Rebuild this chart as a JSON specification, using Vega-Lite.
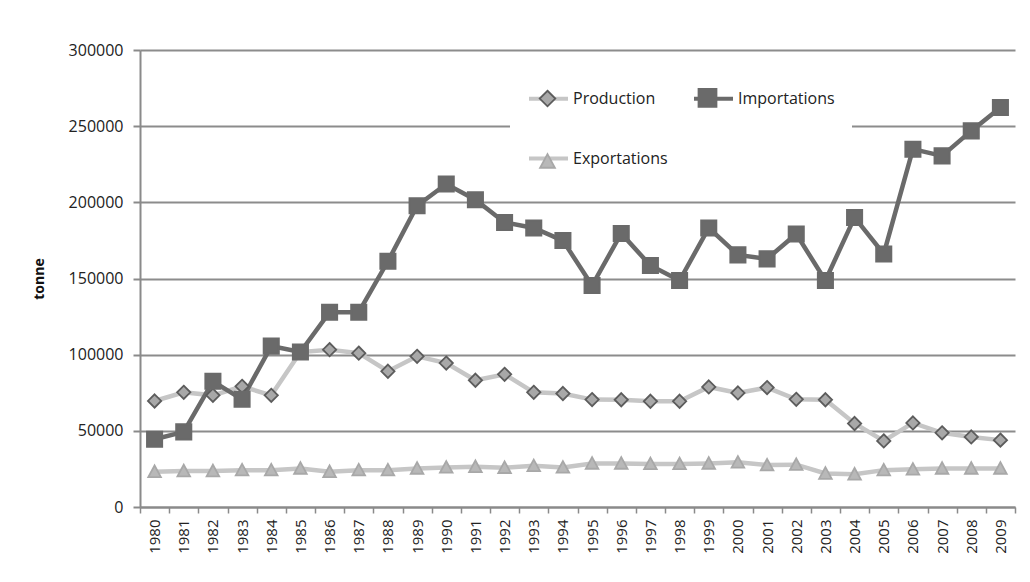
{
  "$schema": "https://vega.github.io/schema/vega-lite/v6.json",
  "width": 875,
  "height": 457,
  "autosize": {"type": "none"},
  "padding": {"left": 140, "top": 50, "right": 15, "bottom": 75},
  "background": "white",
  "config": {
    "view": {"stroke": null},
    "font": "Open Sans",
    "axis": {"labelFont": "Open Sans", "titleFont": "Open Sans"},
    "legend": {"labelFont": "Open Sans"}
  },
  "data": {
    "values": [
      {"year": "1980", "series": "Production", "value": 69600},
      {"year": "1981", "series": "Production", "value": 75300},
      {"year": "1982", "series": "Production", "value": 73300},
      {"year": "1983", "series": "Production", "value": 79200},
      {"year": "1984", "series": "Production", "value": 73300},
      {"year": "1985", "series": "Production", "value": 101700},
      {"year": "1986", "series": "Production", "value": 103300},
      {"year": "1987", "series": "Production", "value": 101000},
      {"year": "1988", "series": "Production", "value": 89100},
      {"year": "1989", "series": "Production", "value": 98900},
      {"year": "1990", "series": "Production", "value": 94500},
      {"year": "1991", "series": "Production", "value": 83200},
      {"year": "1992", "series": "Production", "value": 87100},
      {"year": "1993", "series": "Production", "value": 75300},
      {"year": "1994", "series": "Production", "value": 74500},
      {"year": "1995", "series": "Production", "value": 70500},
      {"year": "1996", "series": "Production", "value": 70400},
      {"year": "1997", "series": "Production", "value": 69400},
      {"year": "1998", "series": "Production", "value": 69400},
      {"year": "1999", "series": "Production", "value": 78800},
      {"year": "2000", "series": "Production", "value": 74900},
      {"year": "2001", "series": "Production", "value": 78400},
      {"year": "2002", "series": "Production", "value": 70700},
      {"year": "2003", "series": "Production", "value": 70400},
      {"year": "2004", "series": "Production", "value": 54800},
      {"year": "2005", "series": "Production", "value": 43400},
      {"year": "2006", "series": "Production", "value": 55200},
      {"year": "2007", "series": "Production", "value": 48700},
      {"year": "2008", "series": "Production", "value": 46000},
      {"year": "2009", "series": "Production", "value": 43900},
      {"year": "1980", "series": "Importations", "value": 44500},
      {"year": "1981", "series": "Importations", "value": 49300},
      {"year": "1982", "series": "Importations", "value": 82500},
      {"year": "1983", "series": "Importations", "value": 70700},
      {"year": "1984", "series": "Importations", "value": 105600},
      {"year": "1985", "series": "Importations", "value": 101700},
      {"year": "1986", "series": "Importations", "value": 127900},
      {"year": "1987", "series": "Importations", "value": 127900},
      {"year": "1988", "series": "Importations", "value": 161300},
      {"year": "1989", "series": "Importations", "value": 197800},
      {"year": "1990", "series": "Importations", "value": 212000},
      {"year": "1991", "series": "Importations", "value": 201700},
      {"year": "1992", "series": "Importations", "value": 186800},
      {"year": "1993", "series": "Importations", "value": 183200},
      {"year": "1994", "series": "Importations", "value": 174900},
      {"year": "1995", "series": "Importations", "value": 145400},
      {"year": "1996", "series": "Importations", "value": 179600},
      {"year": "1997", "series": "Importations", "value": 158500},
      {"year": "1998", "series": "Importations", "value": 148700},
      {"year": "1999", "series": "Importations", "value": 183200},
      {"year": "2000", "series": "Importations", "value": 165500},
      {"year": "2001", "series": "Importations", "value": 162900},
      {"year": "2002", "series": "Importations", "value": 179200},
      {"year": "2003", "series": "Importations", "value": 148700},
      {"year": "2004", "series": "Importations", "value": 190100},
      {"year": "2005", "series": "Importations", "value": 166100},
      {"year": "2006", "series": "Importations", "value": 234900},
      {"year": "2007", "series": "Importations", "value": 230500},
      {"year": "2008", "series": "Importations", "value": 246900},
      {"year": "2009", "series": "Importations", "value": 262200},
      {"year": "1980", "series": "Exportations", "value": 23100},
      {"year": "1981", "series": "Exportations", "value": 23600},
      {"year": "1982", "series": "Exportations", "value": 23600},
      {"year": "1983", "series": "Exportations", "value": 24200},
      {"year": "1984", "series": "Exportations", "value": 24200},
      {"year": "1985", "series": "Exportations", "value": 25300},
      {"year": "1986", "series": "Exportations", "value": 23100},
      {"year": "1987", "series": "Exportations", "value": 24200},
      {"year": "1988", "series": "Exportations", "value": 24200},
      {"year": "1989", "series": "Exportations", "value": 25300},
      {"year": "1990", "series": "Exportations", "value": 26000},
      {"year": "1991", "series": "Exportations", "value": 26400},
      {"year": "1992", "series": "Exportations", "value": 25800},
      {"year": "1993", "series": "Exportations", "value": 27000},
      {"year": "1994", "series": "Exportations", "value": 26000},
      {"year": "1995", "series": "Exportations", "value": 28600},
      {"year": "1996", "series": "Exportations", "value": 28600},
      {"year": "1997", "series": "Exportations", "value": 28300},
      {"year": "1998", "series": "Exportations", "value": 28300},
      {"year": "1999", "series": "Exportations", "value": 28600},
      {"year": "2000", "series": "Exportations", "value": 29300},
      {"year": "2001", "series": "Exportations", "value": 27500},
      {"year": "2002", "series": "Exportations", "value": 27800},
      {"year": "2003", "series": "Exportations", "value": 22000},
      {"year": "2004", "series": "Exportations", "value": 21500},
      {"year": "2005", "series": "Exportations", "value": 24200},
      {"year": "2006", "series": "Exportations", "value": 24700},
      {"year": "2007", "series": "Exportations", "value": 25300},
      {"year": "2008", "series": "Exportations", "value": 25300},
      {"year": "2009", "series": "Exportations", "value": 25300}
    ]
  },
  "encoding": {
    "x": {
      "field": "year",
      "type": "nominal",
      "bandPosition": 0.5,
      "scale": {"type": "band", "paddingInner": 0, "paddingOuter": 0},
      "axis": {
        "title": null,
        "labelAngle": -90,
        "labelFontSize": 15,
        "labelColor": "#222222",
        "labelPadding": 6,
        "tickBand": "extent",
        "tickSize": 6,
        "tickColor": "#8a8a8a",
        "tickWidth": 1.5,
        "domainColor": "#8a8a8a",
        "domainWidth": 2,
        "grid": false
      }
    },
    "y": {
      "field": "value",
      "type": "quantitative",
      "scale": {"domain": [0, 300000], "nice": false},
      "axis": {
        "title": "tonne",
        "titleFontSize": 14,
        "titleFontWeight": "bold",
        "titleColor": "#111111",
        "titlePadding": 22,
        "values": [0, 50000, 100000, 150000, 200000, 250000, 300000],
        "format": "d",
        "labelFontSize": 16,
        "labelColor": "#222222",
        "labelPadding": 10,
        "tickSize": 7,
        "tickColor": "#8a8a8a",
        "tickWidth": 2,
        "domainColor": "#8a8a8a",
        "domainWidth": 2,
        "grid": true,
        "gridColor": "#8c8c8c",
        "gridWidth": 2
      }
    }
  },
  "layer": [
    {
      "mark": {"type": "line", "strokeWidth": 4.5},
      "encoding": {
        "color": {
          "field": "series",
          "type": "nominal",
          "sort": ["Production", "Importations", "Exportations"],
          "scale": {"range": ["#c6c6c6", "#6a6a6a", "#c6c6c6"]},
          "legend": {
            "title": null,
            "orient": "none",
            "direction": "horizontal",
            "legendX": 370,
            "legendY": 10,
            "columns": 2,
            "columnPadding": 18,
            "rowPadding": 30,
            "padding": 17,
            "fillColor": "white",
            "symbolType": "stroke",
            "symbolSize": 1521,
            "symbolStrokeWidth": 4,
            "labelFontSize": 16,
            "labelColor": "#222222",
            "labelOffset": 3,
            "labelLimit": 300
          }
        }
      }
    },
    {
      "mark": {"type": "point", "filled": true, "size": 1100, "strokeWidth": 1.8, "opacity": 1},
      "encoding": {
        "shape": {
          "field": "series",
          "type": "nominal",
          "scale": {
            "domain": ["Production", "Importations", "Exportations"],
            "range": ["M-1,0M1,0M0,-0.4L0.4,0L0,0.4L-0.4,0Z", "M-1,0M1,0M-0.46,-0.46H0.46V0.46H-0.46Z", "M-1,0M1,0M0,-0.38L0.38,0.32L-0.38,0.32Z"]
          },
          "legend": {
            "title": null,
            "orient": "none",
            "direction": "horizontal",
            "legendX": 370,
            "legendY": 10,
            "columns": 2,
            "columnPadding": 18,
            "rowPadding": 30,
            "padding": 17,
            "symbolSize": 1521,
            "symbolStrokeWidth": 1.8,
            "labelFontSize": 16,
            "labelColor": "#222222",
            "labelOpacity": 0,
            "labelOffset": 3,
            "labelLimit": 300
          }
        },
        "fill": {
          "field": "series",
          "type": "nominal",
          "scale": {
            "domain": ["Production", "Importations", "Exportations"],
            "range": ["#a8a8a8", "#6a6a6a", "#b8b8b8"]
          },
          "legend": {
            "title": null,
            "orient": "none",
            "direction": "horizontal",
            "legendX": 370,
            "legendY": 10,
            "columns": 2,
            "columnPadding": 18,
            "rowPadding": 30,
            "padding": 17,
            "symbolSize": 1521,
            "symbolStrokeWidth": 1.8,
            "labelFontSize": 16,
            "labelColor": "#222222",
            "labelOpacity": 0,
            "labelOffset": 3,
            "labelLimit": 300
          }
        },
        "stroke": {
          "field": "series",
          "type": "nominal",
          "scale": {
            "domain": ["Production", "Importations", "Exportations"],
            "range": ["#5c5c5c", "#6a6a6a", "#a8a8a8"]
          },
          "legend": {
            "title": null,
            "orient": "none",
            "direction": "horizontal",
            "legendX": 370,
            "legendY": 10,
            "columns": 2,
            "columnPadding": 18,
            "rowPadding": 30,
            "padding": 17,
            "symbolSize": 1521,
            "symbolStrokeWidth": 1.8,
            "labelFontSize": 16,
            "labelColor": "#222222",
            "labelOpacity": 0,
            "labelOffset": 3,
            "labelLimit": 300
          }
        }
      }
    }
  ]
}
